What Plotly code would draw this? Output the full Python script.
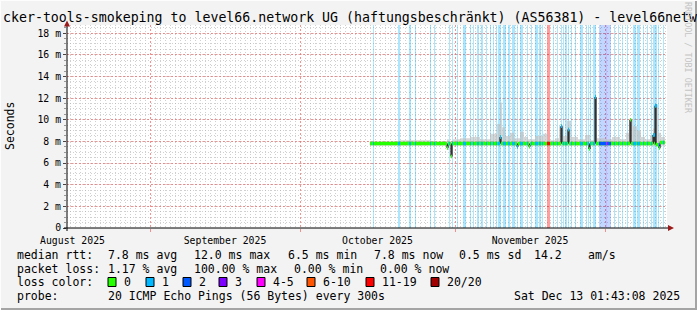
import bisect
from datetime import datetime, timedelta
import plotly.graph_objects as go

# ---------------- data ----------------
x_range = ["2025-08-15 09:36", "2025-12-13 09:36"]
y_max = 18.75
y_tick_vals = [0, 2, 4, 6, 8, 10, 12, 14, 16, 18]
y_tick_text = ["0", "2 m", "4 m", "6 m", "8 m", "10 m", "12 m", "14 m", "16 m", "18 m"]

median_times = [
    "2025-10-15 00:00", "2025-10-30 09:36", "2025-10-30 14:24", "2025-10-31 04:48",
    "2025-10-31 09:36", "2025-11-10 00:00", "2025-11-10 04:48", "2025-11-13 09:36",
    "2025-11-13 14:24", "2025-11-15 19:12", "2025-11-16 00:00", "2025-11-22 04:48",
    "2025-11-22 09:36", "2025-11-23 14:24", "2025-11-23 19:12", "2025-11-27 19:12",
    "2025-11-28 00:00", "2025-11-29 00:00", "2025-11-29 04:48", "2025-12-06 00:00",
    "2025-12-06 04:48", "2025-12-10 14:24", "2025-12-10 19:12", "2025-12-11 00:00",
    "2025-12-11 04:48", "2025-12-11 19:12", "2025-12-12 00:00", "2025-12-13 00:00",
]
median_ms = [
    7.8, 7.4, 7.8, 6.6,
    7.8, 8.4, 7.8, 7.5,
    7.8, 7.5, 7.8, 9.4,
    7.8, 9.1, 7.8, 7.3,
    7.8, 12.1, 7.8, 10.0,
    7.8, 8.6, 7.8, 11.3,
    7.7, 7.4, 7.9, 7.9,
]

smoke_times = [
    "2025-10-15 00:00", "2025-10-21 00:00", "2025-10-27 00:00", "2025-10-30 09:36",
    "2025-10-30 19:12", "2025-10-31 04:48", "2025-10-31 14:24", "2025-11-02 00:00",
    "2025-11-04 00:00", "2025-11-06 00:00", "2025-11-08 00:00", "2025-11-09 09:36",
    "2025-11-10 00:00", "2025-11-10 09:36", "2025-11-11 00:00", "2025-11-12 00:00",
    "2025-11-12 19:12", "2025-11-14 00:00", "2025-11-14 19:12", "2025-11-15 14:24",
    "2025-11-17 00:00", "2025-11-18 14:24", "2025-11-19 14:24", "2025-11-21 00:00",
    "2025-11-21 19:12", "2025-11-22 14:24", "2025-11-23 09:36", "2025-11-24 04:48",
    "2025-11-25 14:24", "2025-11-27 00:00", "2025-11-28 00:00", "2025-11-29 00:00",
    "2025-11-29 09:36", "2025-12-01 00:00", "2025-12-02 09:36", "2025-12-04 00:00",
    "2025-12-05 04:48", "2025-12-05 19:12", "2025-12-06 14:24", "2025-12-07 09:36",
    "2025-12-08 04:48", "2025-12-09 00:00", "2025-12-10 00:00", "2025-12-10 14:24",
    "2025-12-11 00:00", "2025-12-11 14:24", "2025-12-12 04:48", "2025-12-13 00:00",
]
smoke_lo_ms = [
    7.6, 7.6, 7.6, 7.2, 7.6, 6.5, 7.6, 7.6, 7.6, 7.6, 7.6, 7.6,
    7.6, 7.6, 7.6, 7.6, 7.6, 7.6, 7.6, 7.6, 7.6, 7.6, 7.6, 7.6,
    7.6, 7.6, 7.6, 7.6, 7.6, 7.6, 7.6, 7.6, 7.6, 7.6, 7.6, 7.6,
    7.6, 7.6, 7.6, 7.6, 7.6, 7.6, 7.6, 7.6, 7.6, 7.4, 7.6, 7.6,
]
smoke_hi_ms = [
    8.0, 8.1, 8.0, 8.2, 8.0, 8.0, 8.2, 8.3, 8.4, 8.2, 8.7, 9.6,
    11.6, 9.3, 8.5, 8.8, 8.3, 8.9, 8.4, 8.2, 8.5, 8.7, 8.1, 8.3,
    9.4, 8.5, 9.9, 8.4, 8.2, 8.6, 8.1, 12.0, 8.3, 8.2, 8.4, 8.2,
    8.8, 10.0, 9.4, 9.0, 8.4, 8.2, 8.6, 9.2, 11.4, 8.8, 8.4, 8.4,
]

# loss events: start time, duration (hours), loss class index
loss_times = [
    "2025-10-15 14:24", "2025-10-20 14:24", "2025-10-22 19:12", "2025-10-24 00:00",
    "2025-10-27 00:00", "2025-10-27 19:12", "2025-10-30 19:12", "2025-10-31 09:36",
    "2025-11-01 09:36", "2025-11-02 14:24", "2025-11-04 00:00", "2025-11-04 14:24",
    "2025-11-05 09:36", "2025-11-06 04:48", "2025-11-07 04:48", "2025-11-08 00:00",
    "2025-11-08 14:24", "2025-11-09 04:48", "2025-11-09 14:24", "2025-11-10 00:00",
    "2025-11-10 14:24", "2025-11-11 14:24", "2025-11-12 09:36", "2025-11-13 09:36",
    "2025-11-14 00:00", "2025-11-15 09:36", "2025-11-16 04:48", "2025-11-17 00:00",
    "2025-11-17 19:12", "2025-11-18 09:36", "2025-11-19 09:36", "2025-11-20 14:24",
    "2025-11-21 09:36", "2025-11-22 04:48", "2025-11-22 14:24", "2025-11-23 00:00",
    "2025-11-23 14:24", "2025-11-24 04:48", "2025-11-25 00:00", "2025-11-26 00:00",
    "2025-11-27 04:48", "2025-11-27 14:24", "2025-11-28 00:00", "2025-11-28 14:24",
    "2025-11-29 00:00", "2025-11-29 19:12", "2025-12-01 04:48", "2025-12-02 19:12",
    "2025-12-03 14:24", "2025-12-04 09:36", "2025-12-05 09:36", "2025-12-06 14:24",
    "2025-12-07 09:36", "2025-12-08 14:24", "2025-12-09 09:36", "2025-12-10 04:48",
    "2025-12-10 14:24", "2025-12-11 00:00", "2025-12-11 14:24", "2025-12-12 14:24",
]
loss_hours = [
    4.8, 9.6, 9.6, 4.8, 4.8, 4.8, 4.8, 4.8,
    4.8, 14.4, 4.8, 4.8, 9.6, 9.6, 4.8, 4.8,
    4.8, 4.8, 9.6, 4.8, 14.4, 9.6, 14.4, 4.8,
    14.4, 4.8, 4.8, 14.4, 9.6, 4.8, 14.4, 4.8,
    4.8, 4.8, 4.8, 9.6, 4.8, 4.8, 4.8, 14.4,
    4.8, 4.8, 4.8, 9.6, 4.8, 57.6, 4.8, 4.8,
    4.8, 4.8, 4.8, 14.4, 14.4, 4.8, 4.8, 4.8,
    9.6, 9.6, 4.8, 4.8,
]
loss_class = [
    1, 1, 1, 1, 1, 1, 1, 1,
    1, 1, 1, 1, 1, 1, 1, 1,
    1, 1, 1, 1, 1, 1, 1, 1,
    1, 1, 1, 1, 1, 1, 6, 1,
    1, 1, 1, 1, 1, 1, 1, 1,
    1, 1, 1, 1, 1, 2, 4, 1,
    1, 1, 1, 1, 1, 1, 1, 1,
    1, 1, 1, 1,
]

loss_labels = ["0", "1", "2", "3", "4-5", "6-10", "11-19", "20/20"]
loss_colors = ["#26ff00", "#00b8ff", "#0059ff", "#7e00ff",
               "#ff00ff", "#ff5500", "#ff0000", "#a10000"]

title_text = "cker-tools-smokeping to level66.network UG (haftungsbeschränkt) (AS56381) - level66netw"
rtt_stats = ["7.8 ms avg", "12.0 ms max", "6.5 ms min", "7.8 ms now", "0.5 ms sd", "14.2", "am/s"]
pkt_stats = ["1.17 % avg", "100.00 % max", "0.00 % min", "0.00 % now"]
probe_text = "20 ICMP Echo Pings (56 Bytes) every 300s"
stamp_text = "Sat Dec 13 01:43:08 2025"

# ---------------- helpers (layout only) ----------------
MONO = "DejaVu Sans Mono"
PL, PR, PT, PB = 67, 667, 25, 228
BG_ALPHA = {1: 0.33, 2: 0.24, 4: 0.14, 6: 0.38}


def px(p):
    return (p - PL) / (PR - PL)


def py(q):
    return (PB - q) / (PB - PT)


def rgba(hexc, a):
    h = hexc.lstrip("#")
    return "rgba(%d,%d,%d,%.2f)" % (int(h[0:2], 16), int(h[2:4], 16), int(h[4:6], 16), a)


def dt(s):
    return datetime.fromisoformat(s)


fig = go.Figure()

# loss background bars
fig.add_trace(go.Bar(
    x=loss_times, y=[y_max] * len(loss_times), base=0,
    width=[h * 3600000 for h in loss_hours], offset=0,
    marker=dict(color=[rgba(loss_colors[c], BG_ALPHA.get(c, 0.3)) for c in loss_class],
                line=dict(width=0)),
    hoverinfo="skip",
))

# smoke
fig.add_trace(go.Scatter(x=smoke_times, y=smoke_lo_ms, mode="lines",
                         line=dict(width=0, shape="hv"), hoverinfo="skip"))
fig.add_trace(go.Scatter(x=smoke_times, y=smoke_hi_ms, mode="lines",
                         line=dict(width=0, shape="hv"), fill="tonexty",
                         fillcolor="rgba(190,190,190,0.62)", hoverinfo="skip"))

# black median connector
fig.add_trace(go.Scatter(x=median_times, y=median_ms, mode="lines",
                         line=dict(color="#000000", width=1, shape="hv"), hoverinfo="skip"))

# median band (no loss)
bx, by = [], []
for i in range(len(median_times) - 1):
    bx += [median_times[i], median_times[i + 1], None]
    by += [median_ms[i], median_ms[i], None]
fig.add_trace(go.Scatter(x=bx, y=by, mode="lines",
                         line=dict(color=loss_colors[0], width=3.5), hoverinfo="skip"))

# median band coloured by loss
mdt = [dt(t) for t in median_times]
for cls in sorted(set(loss_class)):
    sx, sy = [], []
    for t, h, c in zip(loss_times, loss_hours, loss_class):
        if c != cls:
            continue
        t0 = dt(t)
        idx = max(0, bisect.bisect_right(mdt, t0) - 1)
        t1 = t0 + timedelta(hours=h)
        sx += [t0, t1, None]
        sy += [median_ms[idx], median_ms[idx], None]
    fig.add_trace(go.Scatter(x=sx, y=sy, mode="lines",
                             line=dict(color=loss_colors[cls], width=3.5), hoverinfo="skip"))

grid_red = "rgba(240,110,110,0.75)"
grid_minor = "rgba(170,170,170,0.55)"

fig.update_layout(
    width=697, height=310,
    margin=dict(l=PL, r=697 - PR, t=PT, b=310 - PB, pad=0),
    paper_bgcolor="#f3f3f3", plot_bgcolor="#ffffff",
    showlegend=False, bargap=0,
    font=dict(family=MONO, size=10, color="#000000"),
    xaxis=dict(
        type="date", range=x_range, tick0="2025-08-01", dtick="M1",
        tickformat="%B %Y", ticklabelmode="period",
        showgrid=True, gridcolor=grid_red, griddash="2px,2px", gridwidth=1,
        ticks="outside", ticklen=3, tickcolor=grid_red,
        tickfont=dict(family=MONO, size=9.8, color="#000000"),
        minor=dict(dtick=86400000, tick0="2025-08-01", showgrid=True,
                   gridcolor=grid_minor, griddash="1px,2px", ticks=""),
        zeroline=False, showline=False, fixedrange=True,
    ),
    yaxis=dict(
        range=[0, y_max], tickmode="array", tickvals=y_tick_vals, ticktext=y_tick_text,
        showgrid=True, gridcolor=grid_red, griddash="2px,2px", gridwidth=1,
        ticks="outside", ticklen=3, tickcolor="#444444",
        tickfont=dict(family=MONO, size=9.8, color="#000000"),
        minor=dict(dtick=0.5, tick0=0, showgrid=True, gridcolor=grid_minor,
                   griddash="1px,2px", ticks="outside", ticklen=2, tickcolor="#999999"),
        zeroline=False, showline=False, fixedrange=True,
    ),
)

shapes = []
# frame
shapes.append(dict(type="line", xref="paper", yref="paper", x0=px(696), x1=px(696),
                   y0=py(0), y1=py(310), line=dict(color="#a4a4a4", width=2)))
shapes.append(dict(type="line", xref="paper", yref="paper", x0=px(0), x1=px(697),
                   y0=py(309), y1=py(309), line=dict(color="#a4a4a4", width=2)))
shapes.append(dict(type="line", xref="paper", yref="paper", x0=px(0), x1=px(697),
                   y0=py(0.5), y1=py(0.5), line=dict(color="#fdfdfd", width=1)))
shapes.append(dict(type="line", xref="paper", yref="paper", x0=px(0.5), x1=px(0.5),
                   y0=py(0), y1=py(310), line=dict(color="#fdfdfd", width=1)))
# axes
shapes.append(dict(type="line", xref="paper", yref="paper", x0=px(67), x1=px(67),
                   y0=py(231), y1=py(23), line=dict(color="#000000", width=1)))
shapes.append(dict(type="line", xref="paper", yref="paper", x0=px(64), x1=px(671),
                   y0=py(228), y1=py(228), line=dict(color="#000000", width=1)))
arrow_col = "#9b1b1b"
shapes.append(dict(type="path", xref="paper", yref="paper",
                   path="M %f %f L %f %f L %f %f Z" % (px(64), py(26.5), px(70), py(26.5), px(67), py(20.5)),
                   fillcolor=arrow_col, line=dict(width=0)))
shapes.append(dict(type="path", xref="paper", yref="paper",
                   path="M %f %f L %f %f L %f %f Z" % (px(668), py(225), px(668), py(231), px(674), py(228)),
                   fillcolor=arrow_col, line=dict(width=0)))

anns = []


def text(x, y, s, size=11.5, color="#000000", angle=0, xanchor="left"):
    anns.append(dict(x=px(x), y=py(y), xref="paper", yref="paper", text=s, showarrow=False,
                     xanchor=xanchor, yanchor="middle", textangle=angle, borderpad=0,
                     font=dict(family=MONO, size=size, color=color)))


text(1.5, 18, title_text, size=13.25)
text(10, 126, "Seconds", size=11.5, angle=-90, xanchor="center")
text(688, 58, "RRDTOOL / TOBI OETIKER", size=8.4, color="#c4c4c4", angle=90, xanchor="center")

L1, L2, L3, L4 = 254.5, 268.5, 282.3, 296.3
text(16, L1, "median rtt:")
for s, x in zip(rtt_stats, [107, 193, 287, 373, 458, 533, 587]):
    text(x, L1, s)
text(16, L2, "packet loss:")
for s, x in zip(pkt_stats, [107, 193, 293, 379]):
    text(x, L2, s)
text(16, L3, "loss color:")
box_x = [108, 146, 183, 219, 257, 307, 366, 431]
for lab, col, bxp in zip(loss_labels, loss_colors, box_x):
    shapes.append(dict(type="rect", xref="paper", yref="paper",
                       x0=px(bxp), x1=px(bxp + 8), y0=py(277.5), y1=py(286.5),
                       fillcolor=col, line=dict(color="#000000", width=1)))
    text(bxp + 15, L3, lab)
text(16, L4, "probe:")
text(107, L4, probe_text)
text(513, L4, stamp_text)

fig.update_layout(shapes=shapes, annotations=anns)
fig.write_html("out.html")
